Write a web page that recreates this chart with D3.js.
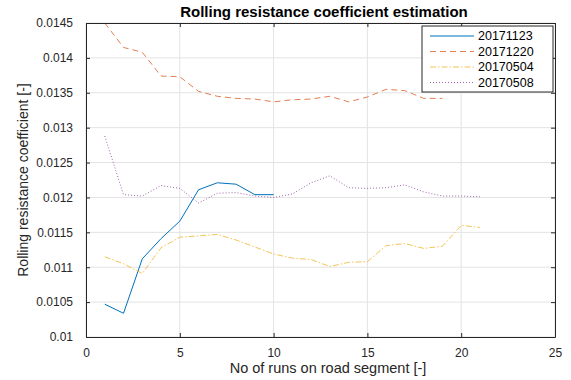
<!DOCTYPE html>
<html>
<head>
<meta charset="utf-8">
<script src="https://cdn.jsdelivr.net/npm/d3@7"></script>
<style>
  body { margin: 0; background: #fff; }
  svg { font-family: "Liberation Sans", Arial, sans-serif; }
  .tick text { fill: #262626; font-size: 12px; }
</style>
</head>
<body>
<div id="chart"></div>
<script>
// data
const runs = [1, 2, 3, 4, 5, 6, 7, 8, 9, 10, 11, 12, 13, 14, 15, 16, 17, 18, 19, 20, 21]
const s20171123 = [0.01047, 0.01034, 0.01112, 0.01141, 0.01166, 0.01211, 0.01221, 0.01219, 0.01204, 0.01204]
const s20171220 = [0.01450, 0.01415, 0.01408, 0.01374, 0.01373, 0.01352, 0.01345, 0.01342, 0.01341, 0.01337,
                   0.01340, 0.01341, 0.01345, 0.01337, 0.01344, 0.01355, 0.01353, 0.01342, 0.01342]
const s20170504 = [0.01115, 0.01105, 0.01091, 0.01128, 0.01143, 0.01145, 0.01147, 0.01139, 0.01129, 0.01119,
                   0.01113, 0.01111, 0.01101, 0.01107, 0.01108, 0.01131, 0.01134, 0.01127, 0.01130, 0.01160, 0.01157]
const s20170508 = [0.01288, 0.01204, 0.01202, 0.01217, 0.01213, 0.01192, 0.01206, 0.01207, 0.01202, 0.01200,
                   0.01205, 0.01221, 0.01231, 0.01214, 0.01213, 0.01214, 0.01218, 0.01208, 0.01202, 0.01202, 0.01201]
const xTicks = [0, 5, 10, 15, 20, 25]
const yTicks = [0.01, 0.0105, 0.011, 0.0115, 0.012, 0.0125, 0.013, 0.0135, 0.014, 0.0145]

const series = [
  { name: '20171123', values: s20171123, color: '#0072BD', dash: null },
  { name: '20171220', values: s20171220, color: '#D95319', dash: '6,4' },
  { name: '20170504', values: s20170504, color: '#EDB120', dash: '6,2,1.5,2' },
  { name: '20170508', values: s20170508, color: '#7E2F8E', dash: '1,2' }
]

let width = 571
let height = 380
let margin = { left: 86, right: 16, top: 23, bottom: 43 }
let textCenter = 324

let svg = d3.select('#chart')
  .append('svg')
  .attr('width', width)
  .attr('height', height)

let xScale = d3.scaleLinear()
  .domain([0, 25])
  .range([margin.left, width - margin.right])

let yScale = d3.scaleLinear()
  .domain([0.01, 0.0145])
  .range([height - margin.bottom, margin.top])

// grid
svg.append('g')
  .selectAll('line')
  .data(xTicks)
  .enter()
  .append('line')
  .attr('x1', d => xScale(d)).attr('x2', d => xScale(d))
  .attr('y1', margin.top).attr('y2', height - margin.bottom)
  .attr('stroke', '#e3e3e3')
  .attr('stroke-width', 1)

svg.append('g')
  .selectAll('line')
  .data(yTicks)
  .enter()
  .append('line')
  .attr('x1', margin.left).attr('x2', width - margin.right)
  .attr('y1', d => yScale(d)).attr('y2', d => yScale(d))
  .attr('stroke', '#e3e3e3')
  .attr('stroke-width', 1)

svg.append('clipPath')
  .attr('id', 'clip')
  .append('rect')
  .attr('x', margin.left)
  .attr('y', margin.top)
  .attr('width', width - margin.left - margin.right)
  .attr('height', height - margin.top - margin.bottom)

let line = d3.line()
  .x((d, i) => xScale(runs[i]))
  .y(d => yScale(d))

svg.append('g')
  .attr('clip-path', 'url(#clip)')
  .selectAll('path')
  .data(series)
  .enter()
  .append('path')
  .attr('d', d => line(d.values))
  .attr('fill', 'none')
  .attr('stroke', d => d.color)
  .attr('stroke-width', 1)
  .attr('stroke-dasharray', d => d.dash)
  .attr('opacity', (d, i) => i == 0 ? 1 : 0.75)

// axes (MATLAB style, ticks inward)
let xAxis = d3.axisBottom(xScale)
  .tickValues(xTicks)
  .tickSizeInner(-4)
  .tickSizeOuter(0)
  .tickPadding(11)

let yAxis = d3.axisLeft(yScale)
  .tickValues(yTicks)
  .tickFormat(d => String(+d.toFixed(4)))
  .tickSizeInner(-4)
  .tickSizeOuter(0)
  .tickPadding(13)

svg.append('g')
  .attr('transform', `translate(0,${height - margin.bottom})`)
  .call(xAxis)

svg.append('g')
  .attr('transform', `translate(${margin.left},0)`)
  .call(yAxis)

svg.append('g')
  .attr('transform', `translate(0,${margin.top})`)
  .call(d3.axisTop(xScale).tickValues(xTicks).tickSizeInner(-4).tickSizeOuter(0).tickFormat(''))

svg.append('g')
  .attr('transform', `translate(${width - margin.right},0)`)
  .call(d3.axisRight(yScale).tickValues(yTicks).tickSizeInner(-4).tickSizeOuter(0).tickFormat(''))

svg.selectAll('.domain').attr('stroke', '#262626')
svg.selectAll('.tick line').attr('stroke', '#262626')

// title and labels
svg.append('text')
  .attr('x', textCenter)
  .attr('y', 17)
  .attr('text-anchor', 'middle')
  .attr('font-size', '15px')
  .attr('font-weight', 'bold')
  .attr('fill', '#000')
  .text('Rolling resistance coefficient estimation')

svg.append('text')
  .attr('x', textCenter + 4)
  .attr('y', 373)
  .attr('text-anchor', 'middle')
  .attr('font-size', '14.5px')
  .attr('fill', '#262626')
  .text('No of runs on road segment [-]')

svg.append('text')
  .attr('transform', `translate(28,${(margin.top + height - margin.bottom) / 2}) rotate(-90)`)
  .attr('text-anchor', 'middle')
  .attr('font-size', '14px')
  .attr('fill', '#262626')
  .text('Rolling resistance coefficient [-]')

// legend
let legend = svg.append('g')
  .attr('transform', 'translate(422,26)')

legend.append('rect')
  .attr('width', 131)
  .attr('height', 66)
  .attr('fill', '#fff')
  .attr('stroke', '#262626')
  .attr('stroke-width', 1)

let item = legend.selectAll('.item')
  .data(series)
  .enter()
  .append('g')
  .attr('transform', (d, i) => `translate(0,${10 + i * 15.5})`)

item.append('line')
  .attr('x1', 8).attr('x2', 52)
  .attr('stroke', d => d.color)
  .attr('stroke-width', 1)
  .attr('stroke-dasharray', d => d.dash)
  .attr('opacity', (d, i) => i == 0 ? 1 : 0.75)

item.append('text')
  .attr('x', 56)
  .attr('dy', '0.35em')
  .attr('font-size', '12.5px')
  .attr('fill', '#000')
  .text(d => d.name)
</script>
</body>
</html>
